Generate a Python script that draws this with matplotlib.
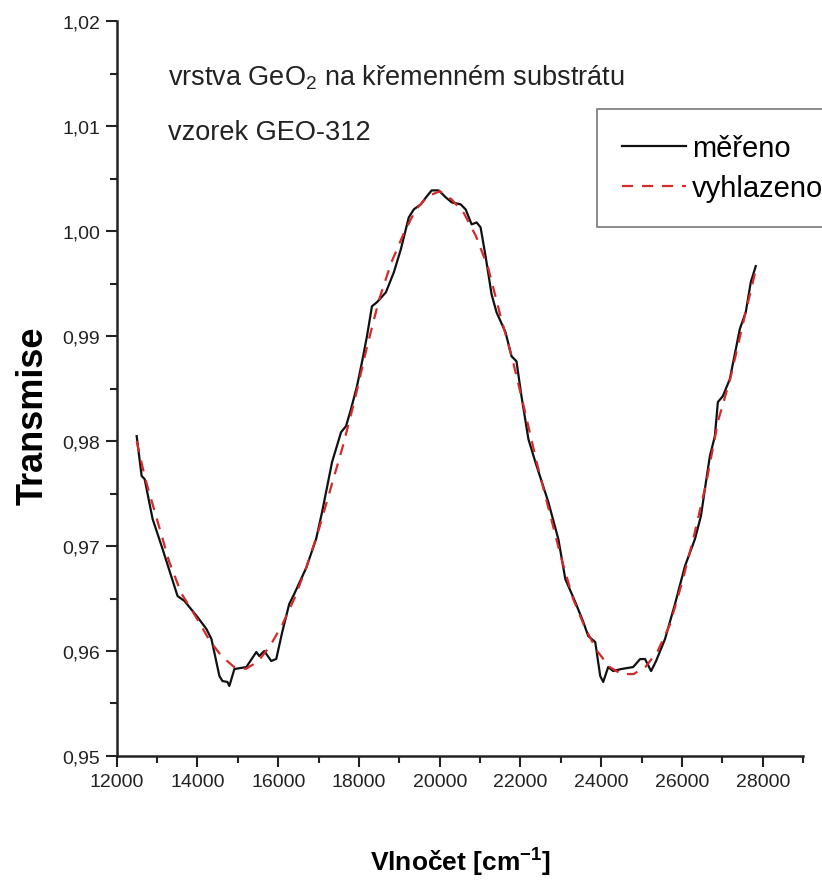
import matplotlib
matplotlib.use("Agg")
import matplotlib.pyplot as plt
from matplotlib.ticker import MultipleLocator, FixedLocator

plt.rcParams['font.family'] = ['Liberation Sans', 'DejaVu Sans']
plt.rcParams['mathtext.fontset'] = 'custom'
plt.rcParams['mathtext.rm'] = 'Liberation Sans'
plt.rcParams['mathtext.bf'] = 'Liberation Sans:bold'

# measured spectrum (wavenumber cm-1, transmission)
mereno_x = [12494, 12617, 12691, 12889, 13136, 13506, 13679, 14000, 14222, 14346,
            14543, 14617, 14741, 14790, 14914, 15210, 15457, 15531, 15654, 15827,
            15951, 16099, 16272, 16395, 16691, 16938, 17086, 17333, 17556, 17679,
            17802, 17951, 18074, 18198, 18321, 18444, 18667, 18864, 19037, 19234,
            19358, 19531, 19679, 19802, 19975, 20148, 20296, 20518, 20642, 20790,
            20914, 21012, 21136, 21284, 21407, 21630, 21778, 21901, 22025, 22197,
            22370, 22691, 22938, 23111, 23358, 23556, 23679, 23852, 23975, 24049,
            24173, 24296, 24494, 24790, 24963, 25086, 25235, 25358, 25580, 25827,
            26074, 26321, 26469, 26593, 26691, 26815, 26889, 27012, 27185, 27333,
            27432, 27580, 27704, 27827]
mereno_y = [0.98047, 0.97667, 0.97638, 0.97257, 0.96971, 0.96524, 0.96476, 0.96324, 0.96209, 0.96114,
            0.95762, 0.95714, 0.95705, 0.95667, 0.95828, 0.95847, 0.95990, 0.95952, 0.96000, 0.95905,
            0.95924, 0.96180, 0.96447, 0.96542, 0.96790, 0.97066, 0.97323, 0.97799, 0.98084, 0.98142,
            0.98304, 0.98523, 0.98751, 0.98998, 0.99284, 0.99322, 0.99417, 0.99608, 0.99827, 1.00131,
            1.00207, 1.00255, 1.00331, 1.00388, 1.00388, 1.00322, 1.00274, 1.00255, 1.00207, 1.00064,
            1.00083, 1.00036, 0.99760, 0.99398, 0.99227, 0.99036, 0.98808, 0.98760, 0.98427, 0.98018,
            0.97799, 0.97418, 0.97066, 0.96685, 0.96466, 0.96276, 0.96142, 0.96085, 0.95762, 0.95705,
            0.95847, 0.95809, 0.95828, 0.95847, 0.95923, 0.95923, 0.95809, 0.95904, 0.96114, 0.96447,
            0.96809, 0.97066, 0.97285, 0.97608, 0.97856, 0.98047, 0.98371, 0.98428, 0.98590, 0.98875,
            0.99066, 0.99228, 0.99513, 0.99666]

# smoothed
vyhl_x = [12494, 12700, 13000, 13300, 13600, 14000, 14300, 14600, 14900, 15200,
          15500, 15800, 16100, 16400, 16700, 17000, 17300, 17600, 17900, 18200,
          18500, 18800, 19100, 19400, 19700, 20000, 20300, 20600, 20900, 21200,
          21500, 21800, 22100, 22400, 22700, 23000, 23300, 23600, 23900, 24200,
          24500, 24800, 25100, 25400, 25700, 26000, 26300, 26600, 26900, 27200,
          27500, 27850]
vyhl_y = [0.9800, 0.9765, 0.9725, 0.9685, 0.9655, 0.9630, 0.9610, 0.9595, 0.9585, 0.9583,
          0.9590, 0.9605, 0.9625, 0.9650, 0.9680, 0.9715, 0.9755, 0.9795, 0.9840, 0.9890,
          0.9935, 0.9970, 0.9997, 1.0020, 1.0033, 1.0038, 1.0030, 1.0017, 0.9995, 0.9965,
          0.9920, 0.9878, 0.9830, 0.9780, 0.9735, 0.9690, 0.9650, 0.9622, 0.9600, 0.9585,
          0.9578, 0.9578, 0.9585, 0.9600, 0.9625, 0.9665, 0.9710, 0.9760, 0.9820, 0.9860,
          0.9910, 0.9967]

y_ticks = [0.95, 0.96, 0.97, 0.98, 0.99, 1.00, 1.01, 1.02]
y_labels = ['0,95', '0,96', '0,97', '0,98', '0,99', '1,00', '1,01', '1,02']

fig = plt.figure(figsize=(8.22, 8.87), dpi=100)
ax = fig.add_axes([0.142, 0.1466, 0.835, 0.8284])

ax.plot(mereno_x, mereno_y, color='#111111', lw=1.6, label='měřeno')
ax.plot(vyhl_x, vyhl_y, color='#d42a2a', lw=1.6, ls=(0, (5, 4)), label='vyhlazeno')

ax.set_xlim(12000, 29000)
ax.set_ylim(0.95, 1.02)
ax.xaxis.set_major_locator(MultipleLocator(2000))
ax.xaxis.set_minor_locator(MultipleLocator(1000))
ax.yaxis.set_major_locator(FixedLocator(y_ticks))
ax.set_yticklabels(y_labels)
ax.yaxis.set_minor_locator(MultipleLocator(0.005))

for s in ['top', 'right']:
    ax.spines[s].set_visible(False)
for s in ['left', 'bottom']:
    ax.spines[s].set_linewidth(1.8)
    ax.spines[s].set_color('#222222')

ax.tick_params(which='major', length=8, width=1.5, direction='out', labelsize=14,
               colors='#222222', pad=4)
ax.tick_params(which='minor', length=5, width=1.5, direction='out', colors='#222222')

ax.set_ylabel('Transmise', fontsize=26, fontweight='bold', va='center')
ax.yaxis.set_label_coords(-0.122, 0.465)
ax.set_xlabel('Vlnočet [cm$^{\\mathbf{-1}}$]', fontsize=19, fontweight='bold', va='center')
ax.xaxis.set_label_coords(0.5, -0.143)

ax.text(0.074, 0.924, 'vrstva GeO$\\mathregular{_2}$ na křemenném substrátu',
        transform=ax.transAxes, fontsize=19.5, va='center', color='#222222')
ax.text(0.074, 0.849, 'vzorek GEO-312', transform=ax.transAxes, fontsize=19.5,
        va='center', color='#222222')

leg = ax.legend(loc='upper left', bbox_to_anchor=(0.70, 0.880), fontsize=21,
                frameon=True, fancybox=False, handlelength=2.2, handletextpad=0.2,
                borderpad=0.85, labelspacing=0.4, borderaxespad=0)
leg.get_frame().set_edgecolor('#555555')
leg.get_frame().set_linewidth(1.2)

fig.savefig('out.png', dpi=100)
